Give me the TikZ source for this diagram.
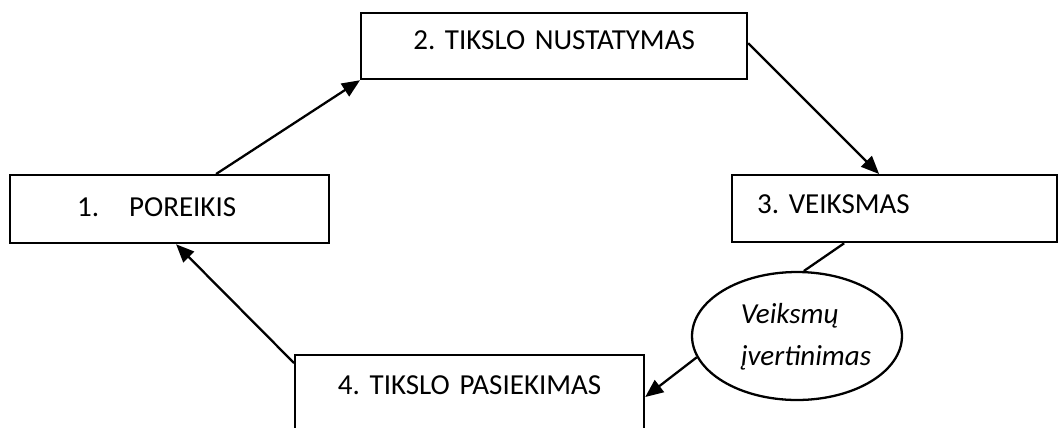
\documentclass[tikz,border=0pt]{standalone}
\usepackage{fontspec}
\setmainfont{Carlito}
\usetikzlibrary{arrows.meta,shapes.geometric}
\frenchspacing

\begin{document}
\begin{tikzpicture}[
    x=0.02cm, y=-0.02cm,
    box/.style={rectangle, draw=black, line width=1.3pt, inner xsep=0pt, inner ysep=0pt, font=\fontsize{16.5pt}{22.5pt}\selectfont},
    oval/.style={ellipse, draw=black, line width=1.3pt, inner sep=0pt, minimum width=4.2cm, minimum height=2.56cm, font=\fontsize{16.5pt}{24pt}\selectfont\itshape},
    link/.style={line width=1.3pt},
    arrow/.style={-{Triangle[length=3.6mm,width=3mm]}, line width=1.3pt}
]
\useasboundingbox (0,0) rectangle (1058,427);
\clip (0,0) rectangle (1058,427);
\node[box, anchor=north west, text width=6.38cm, align=left, text height=0.82cm, text depth=0.54cm] (need) at (9,174) {\hspace*{1.34cm}1.\hspace{0.6cm}POREIKIS};
\node[box, anchor=north west, text width=7.72cm, align=center, text height=0.72cm, text depth=0.6cm] (goal) at (360,12) {2. TIKSLO NUSTATYMAS};
\node[box, anchor=north west, text width=6.5cm, align=left, text height=0.76cm, text depth=0.58cm] (act) at (731,174) {\hspace*{0.5cm}3. VEIKSMAS};
\node[box, anchor=north west, text width=6.98cm, align=center, text height=0.78cm, text depth=2cm] (reach) at (294,354) {4. TIKSLO PASIEKIMAS};
\node[oval] (eval) at (797,336) {\begin{tabular}{@{\hspace{0.36cm}}l@{}}Veiksmų\\įvertinimas\end{tabular}};
\draw[arrow] ([xshift=0.93cm]need.north) -- (goal.south west);
\draw[arrow] ([yshift=0.06cm]goal.east) -- ([xshift=-0.31cm]act.north);
\draw[link] ([xshift=-1.01cm]act.south) -- (eval.84);
\draw[arrow] (eval.192) -- ([yshift=-0.86cm]reach.north east);
\draw[arrow] ([yshift=-0.18cm]reach.north west) -- ([xshift=0.13cm]need.south);
\end{tikzpicture}
\end{document}
